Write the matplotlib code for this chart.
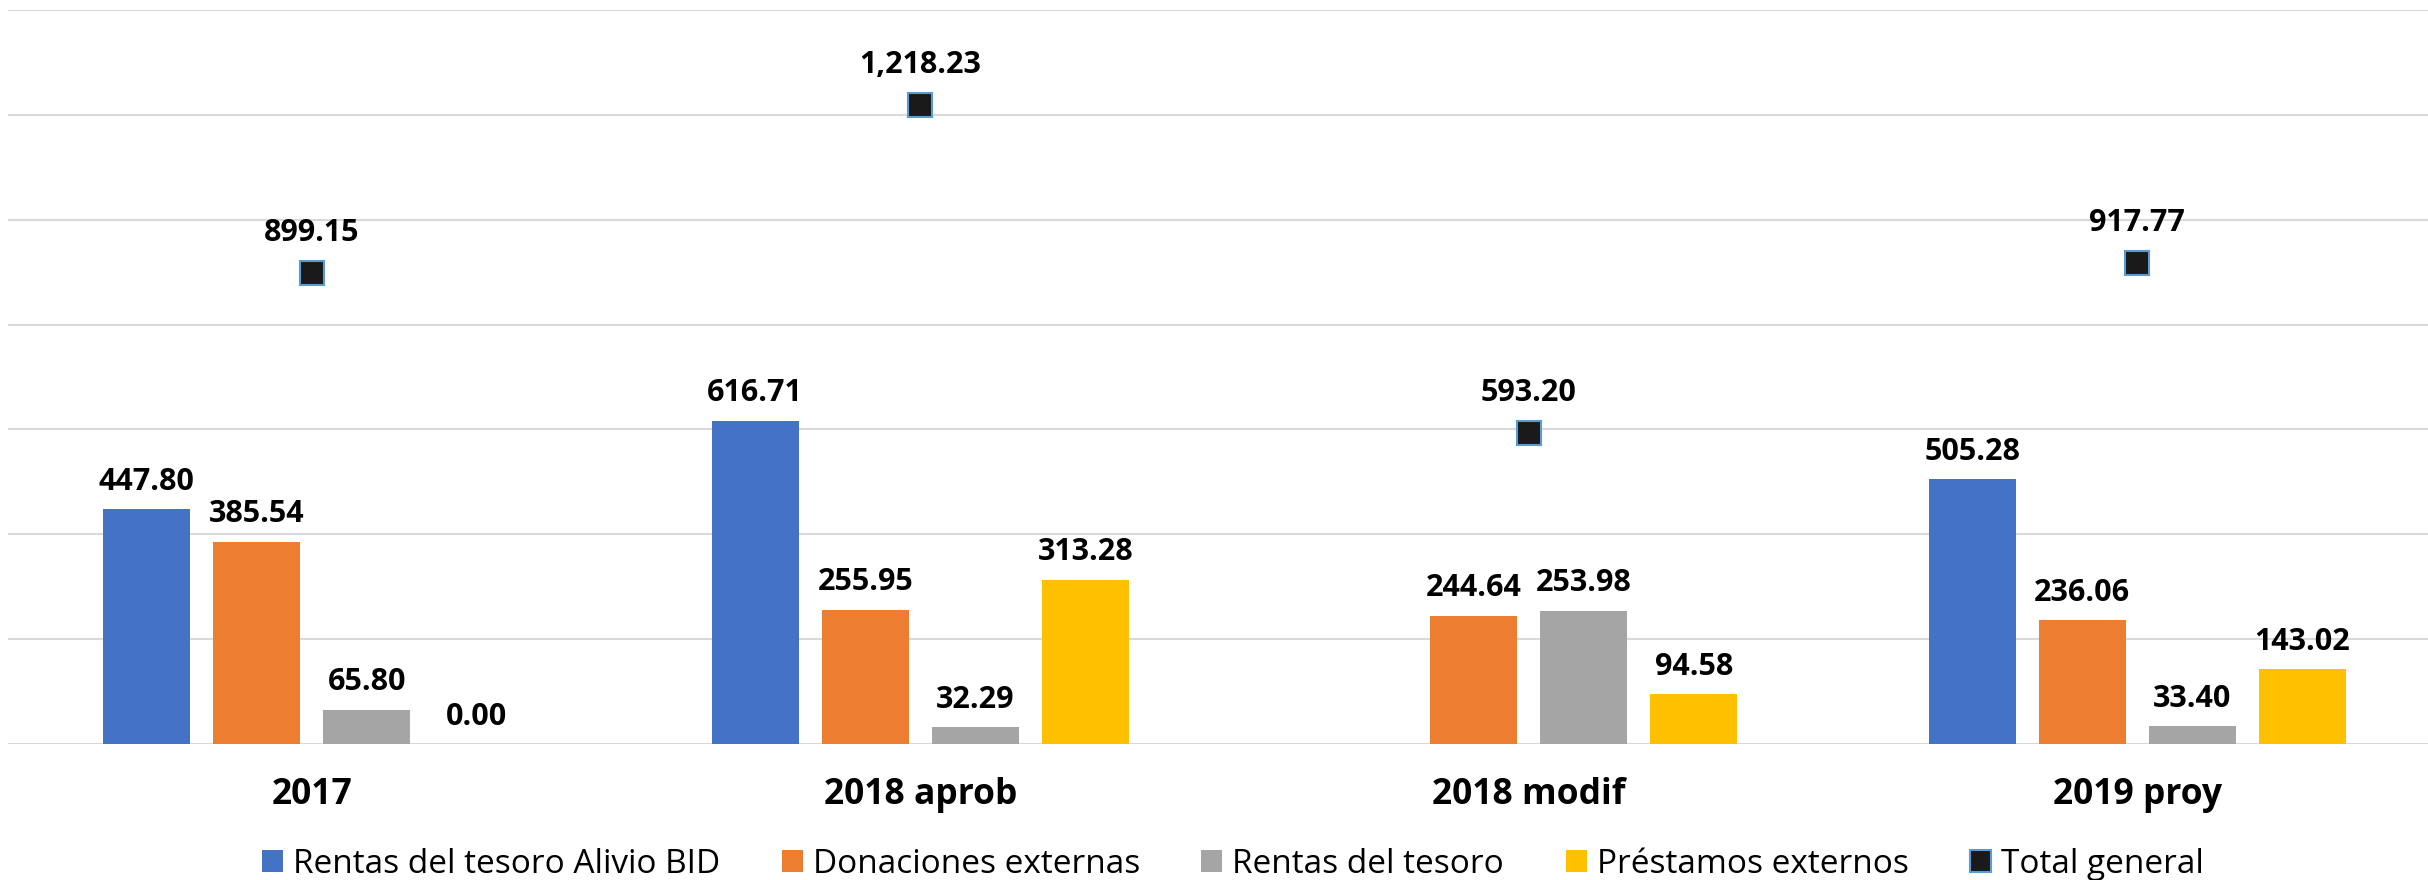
import matplotlib.pyplot as plt
import numpy as np
from matplotlib.patches import Patch

plt.rcParams['font.family'] = ['Open Sans', 'DejaVu Sans']

categorias = ['2017', '2018 aprob', '2018 modif', '2019 proy']
series = ['Rentas del tesoro Alivio BID', 'Donaciones externas',
          'Rentas del tesoro', 'Préstamos externos']
alivio_bid = [447.80, 616.71, np.nan, 505.28]
donaciones = [385.54, 255.95, 244.64, 236.06]
rentas = [65.80, 32.29, 253.98, 33.40]
prestamos = [0.00, 313.28, 94.58, 143.02]
total = [899.15, 1218.23, 593.20, 917.77]

colores = ['#4472C4', '#ED7D31', '#A5A5A5', '#FFC000']

fig = plt.figure(figsize=(24.28, 8.8), dpi=100)
ax = fig.add_axes([7.5 / 2428, 136 / 880, 2434 / 2428, 734 / 880])

x = np.arange(len(categorias))
paso = 0.1808
ancho = 0.143
for i, (vals, col) in enumerate(zip([alivio_bid, donaciones, rentas, prestamos], colores)):
    pos = x + (i - 1.5) * paso
    ax.bar(pos, vals, width=ancho, color=col, zorder=3)
    for xp, v in zip(pos, vals):
        if np.isnan(v):
            continue
        ax.annotate(f'{v:,.2f}', (xp, v), xytext=(0, 9), textcoords='offset points',
                    ha='center', va='bottom', fontsize=22, fontweight='bold')

# total general como marcadores
ax.plot(x, total, linestyle='none', marker='s', markersize=17,
        markerfacecolor='#1A1A1A', markeredgecolor='#5B9BD5', markeredgewidth=1.5, zorder=4)
for xp, v in zip(x, total):
    ax.annotate(f'{v:,.2f}', (xp, v), xytext=(0, 18), textcoords='offset points',
                ha='center', va='bottom', fontsize=22, fontweight='bold')

ax.set_xlim(-0.5, 3.5)
ax.set_ylim(0, 1400)
ax.set_yticks(np.arange(0, 1401, 200))
ax.set_yticklabels([])
ax.yaxis.grid(True, color='#D9D9D9', linewidth=1.5, zorder=0)
ax.set_xticks(x)
ax.set_xticklabels(categorias, fontsize=25.5, fontweight='bold')
ax.tick_params(axis='both', length=0)
ax.tick_params(axis='x', pad=24)
for s in ax.spines.values():
    s.set_visible(False)

handles = [Patch(facecolor=c, edgecolor='none') for c in colores]
handles.append(Patch(facecolor='#1A1A1A', edgecolor='#5B9BD5', linewidth=1.5))
fig.legend(handles, series + ['Total general'], loc='center',
           bbox_to_anchor=(1233 / 2428, 16 / 880), ncol=5, frameon=False,
           fontsize=24, handlelength=0.63, handleheight=0.63,
           handletextpad=0.3, columnspacing=1.85, borderpad=0)

fig.savefig('out.png', dpi=100)
